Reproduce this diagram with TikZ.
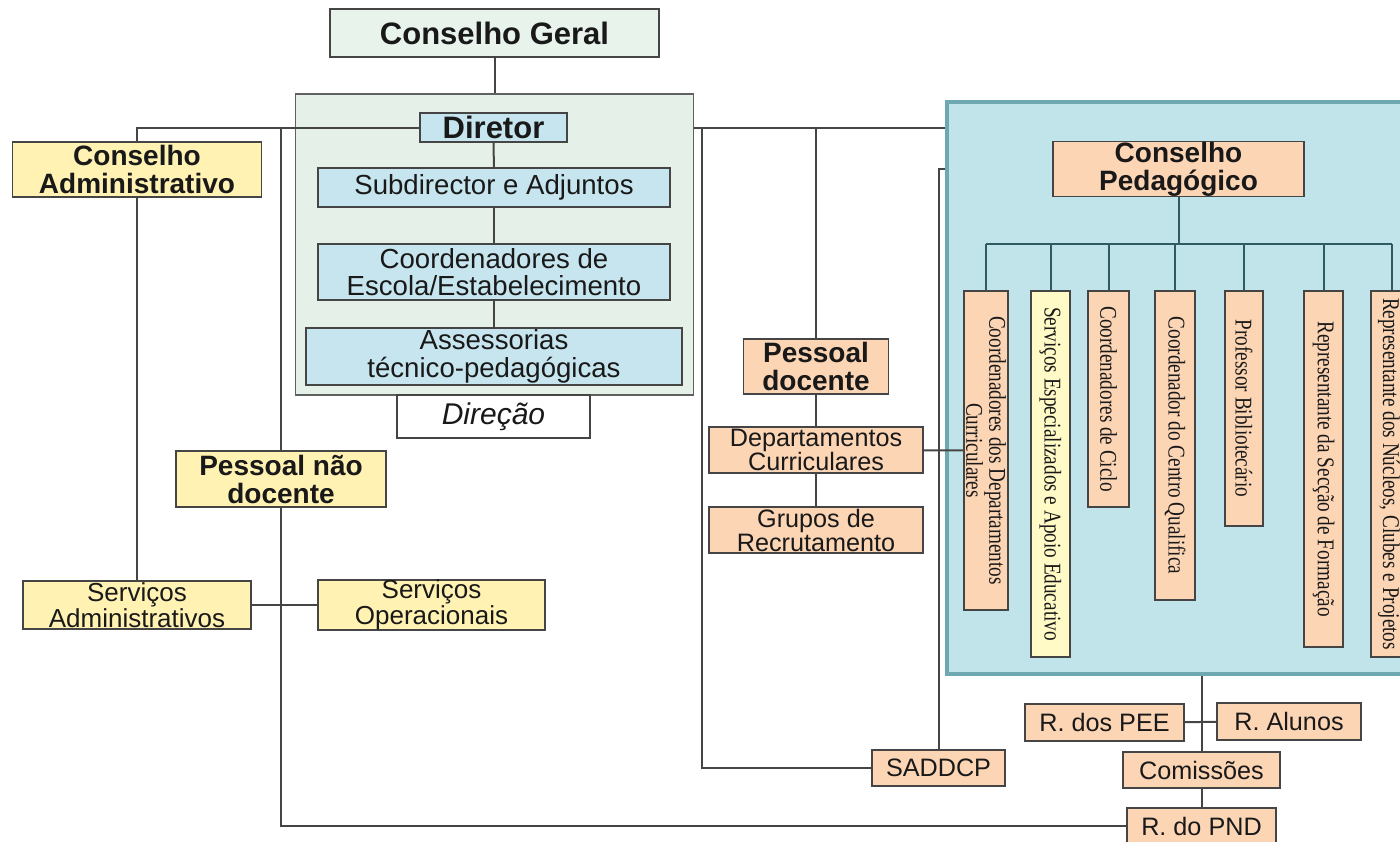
\documentclass[tikz,border=0pt]{standalone}
\usepackage{fontspec}
\setmainfont{Liberation Sans}
\newfontfamily\narrowserif[FakeStretch=0.8]{Liberation Serif}
\definecolor{geralgreen}{HTML}{E8F3EB}
\definecolor{dirgreen}{HTML}{E5F1E8}
\definecolor{dirblue}{HTML}{C7E5EE}
\definecolor{pedblue}{HTML}{C1E4EB}
\definecolor{pedframe}{HTML}{6FA8B0}
\definecolor{admyellow}{HTML}{FFF2B3}
\definecolor{paleyellow}{HTML}{FFFAC6}
\definecolor{docorange}{HTML}{FCD5B5}
\definecolor{linegray}{HTML}{454545}
\definecolor{pedline}{HTML}{2F5A61}
\newcommand{\pxu}{0.5pt}

\begin{document}
\begin{tikzpicture}[
	x=\pxu, y=-\pxu,
	conn/.style = {draw=linegray, line width=1pt},
	pedconn/.style = {draw=pedline, line width=1pt},
	box/.style = {draw=linegray, line width=0.9pt, inner sep=0pt, align=center, text=black!90},
	wh/.style 2 args = {minimum width=#1*\pxu, minimum height=#2*\pxu},
	titlefont/.style = {font=\fontsize{15.5}{16}\selectfont\bfseries},
	headfont/.style = {font=\fontsize{14}{14}\selectfont\bfseries},
	dirfont/.style = {font=\fontsize{13.8}{13.8}\selectfont},
	smallfont/.style = {font=\fontsize{12.6}{12}\selectfont},
	vbox/.style = {box, rotate=-90, fill=docorange, font=\narrowserif\fontsize{12}{11.5}\selectfont}
	]
	\useasboundingbox (0,0) rectangle (1400,841);
	\clip (0,0) rectangle (1400,841);

	% Direcao
	\node[box, wh={398}{301}, fill=dirgreen, draw=gray!75!black] (direcao) at (494.5,244.5) {};
	\node[box, wh={193}{43}, fill=white, font=\fontsize{15}{15}\selectfont\itshape] (dirlabel) at (493.5,416.5) {Direção};
	\node[box, wh={329}{48}, fill=geralgreen, titlefont] (geral) at (494.5,33) {Conselho Geral};
	\node[box, wh={147}{29}, fill=dirblue, titlefont] (diretor) at (493.5,127.5) {Diretor};
	\node[box, wh={352}{39}, fill=dirblue, dirfont] (subdir) at (494,187.5) {Subdirector e Adjuntos};
	\node[box, wh={352}{56}, fill=dirblue, dirfont] (coord) at (494,272) {Coordenadores de\\Escola/Estabelecimento};
	\node[box, wh={376}{57}, fill=dirblue, dirfont] (assess) at (494,356.5) {Assessorias\\técnico-pedagógicas};

	% pessoal nao docente
	\node[box, wh={249}{55}, fill=admyellow, headfont] (cadm) at (137,169.5) {Conselho\\Administrativo};
	\node[box, wh={210}{56}, fill=admyellow, headfont] (pnd) at (281,479) {Pessoal não\\docente};
	\node[box, wh={228}{48}, fill=admyellow, font=\fontsize{13}{11.7}\selectfont] (servadm) at (137,605) {Serviços\\Administrativos};
	\node[box, wh={227}{48}, fill=admyellow, font=\fontsize{13}{11.7}\selectfont] (servop) at (431.5,605) {Serviços\\Operacionais};

	% pessoal docente
	\node[box, wh={145}{55}, fill=docorange, headfont] (pdoc) at (816,366.5) {Pessoal\\docente};
	\node[box, wh={214}{46}, fill=docorange, smallfont] (dept) at (816,450) {Departamentos\\Curriculares};
	\node[box, wh={214}{46}, fill=docorange, smallfont] (grupos) at (816,530) {Grupos de\\Recrutamento};
	\node[box, wh={133}{36}, fill=docorange, smallfont] (saddcp) at (938.5,768) {SADDCP};

	% Conselho Pedagogico
	\node[draw=pedframe, line width=2pt, fill=pedblue, wh={465}{572}, inner sep=0pt] (pedbox) at (1179.5,388) {};
	\node[box, wh={251}{55}, fill=docorange, headfont] (cped) at (1178.5,169) {Conselho\\Pedagógico};
	\node[vbox, wh={319}{44}] (v1) at (986,450.5) {Coordenadores dos Departamentos\\Curriculares};
	\node[vbox, wh={366}{39}, fill=paleyellow] (v2) at (1050.5,474) {Serviços Especializados e Apoio Educativo};
	\node[vbox, wh={216}{41}] (v3) at (1108.5,399) {Coordenadores de Ciclo};
	\node[vbox, wh={309}{40}] (v4) at (1175,445.5) {Coordenador do Centro Qualifica};
	\node[vbox, wh={235}{38}] (v5) at (1244,408.5) {Professor Bibliotecário};
	\node[vbox, wh={356}{39}] (v6) at (1323.5,469) {Representante da Secção de Formação};
	\node[vbox, wh={366}{36}] (v7) at (1389,474) {Representante dos Núcleos, Clubes e Projetos};

	\node[box, wh={159}{37}, fill=docorange, smallfont] (pee) at (1104.5,722.5) {R. dos PEE};
	\node[box, wh={144}{37}, fill=docorange, smallfont] (alunos) at (1289,721.5) {R. Alunos};
	\node[box, wh={157}{36}, fill=docorange, smallfont] (comiss) at (1201.5,770) {Comissões};
	\node[box, wh={149}{36}, fill=docorange, smallfont] (rpnd) at (1201.5,826) {R. do PND};

	\coordinate (busL) at (986,244);
	\coordinate (busR) at (1392,244);
	\coordinate (jR) at (702,127);

	\draw[conn] (geral) -- (geral |- direcao.north);
	\draw[conn] (diretor) -- (subdir);
	\draw[conn] (subdir) -- (coord);
	\draw[conn] (coord) -- (assess);

	\draw[conn] (diretor.west) -| (cadm.north);
	\draw[conn] (cadm) -- (servadm);
	\draw[conn] (pnd.north |- diretor.west) -- (pnd.north);
	\draw[conn] (pnd.south) |- (rpnd.west);
	\draw[conn] (servadm) -- (servop);

	\draw[conn] (direcao.east |- diretor) -- (pedbox.west |- diretor);
	\draw[conn] (jR) |- (saddcp.west);
	\draw[conn] (pdoc.north |- diretor) -- (pdoc.north);
	\draw[conn] (pdoc) -- (dept);
	\draw[conn] (dept) -- (grupos);
	\draw[conn] (dept) -- (v1);
	\draw[conn] (saddcp.north) |- (pedbox.west |- cped);

	\draw[pedconn] (cped) -- (cped |- busL);
	\draw[pedconn] (busL) -- (busR);
	\foreach \v in {v1,v2,v3,v4,v5,v6}
		\draw[pedconn] (\v |- busL) -- (\v);
	\draw[pedconn] (busR) -- (busR |- v7.west);

	\draw[conn] (pedbox.south -| comiss) -- (comiss);
	\draw[conn] (pee) -- (alunos);
	\draw[conn] (comiss) -- (rpnd);
\end{tikzpicture}
\end{document}
